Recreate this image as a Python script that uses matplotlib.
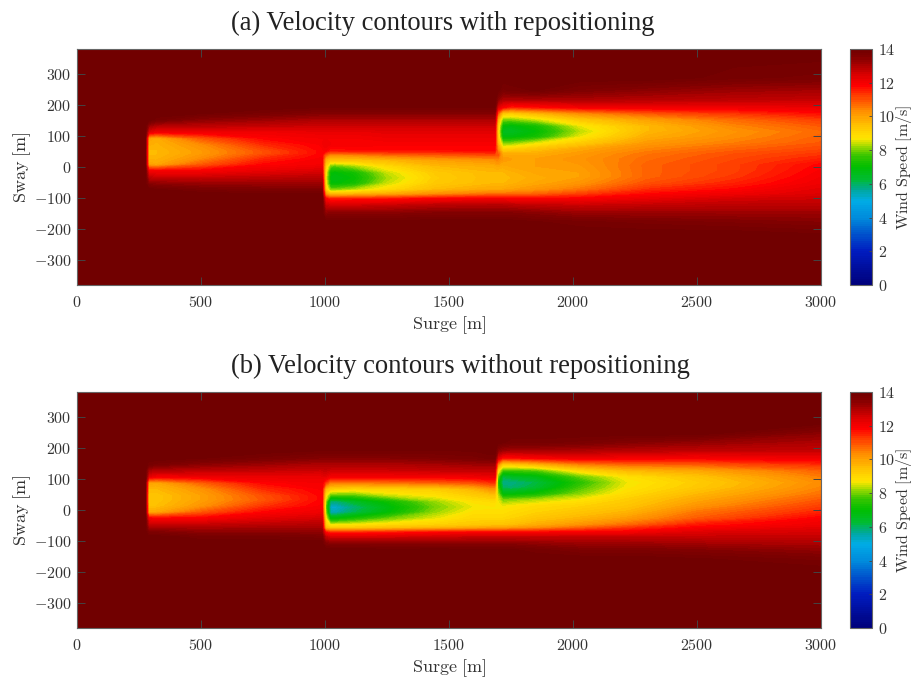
import matplotlib
matplotlib.use('Agg')
import matplotlib.pyplot as plt
import numpy as np
from matplotlib.colors import LinearSegmentedColormap

plt.rcParams['mathtext.fontset'] = 'cm'

# Stations, sway rows are top to bottom
surge_a = [0, 272, 287, 320, 500, 750, 985, 1000, 1020, 1040, 1120, 1250, 1450, 1670, 1682, 1695, 1715, 1750, 1850, 2030, 2300, 2650, 3000]
sway_a = [380, 290, 250, 220, 195, 175, 155, 135, 115, 95, 75, 55, 40, 25, 5, -15, -35, -55, -75, -90, -105, -125, -150, -180, -220, -380]
# one line per surge station
speed_a = [
    [14, 14, 14, 14, 14, 14, 14, 14, 14, 14, 14, 14, 14, 14, 14, 14, 14, 14, 14, 14, 14, 14, 14, 14, 14, 14],
    [14, 14, 14, 14, 14, 14, 14, 14, 14, 14, 14, 14, 14, 14, 14, 14, 14, 14, 14, 14, 14, 14, 14, 14, 14, 14],
    [14, 14, 14, 14, 14, 14, 14, 13.2, 12.3, 10, 9.8, 9.6, 9.6, 9.7, 10, 12, 12.7, 13.4, 14, 14, 14, 14, 14, 14, 14, 14],
    [14, 14, 14, 14, 14, 14, 13.8, 12.9, 12, 9.8, 9.7, 9.6, 9.6, 9.7, 9.9, 11.9, 12.6, 13.3, 13.9, 14, 14, 14, 14, 14, 14, 14],
    [14, 14, 14, 14, 14, 13.9, 13.4, 12.8, 12.1, 10.9, 10.3, 10.1, 10.1, 10.3, 10.9, 11.9, 12.6, 13.2, 13.7, 14, 14, 14, 14, 14, 14, 14],
    [14, 14, 14, 14, 14, 13.7, 13.2, 12.7, 12.1, 11.8, 11.4, 11, 11, 11.4, 11.8, 12.2, 12.7, 13.2, 13.6, 13.9, 14, 14, 14, 14, 14, 14],
    [14, 14, 14, 14, 13.9, 13.5, 13, 12.6, 12.2, 12, 11.9, 11.8, 11.8, 11.9, 12, 12.4, 12.8, 13.2, 13.6, 13.9, 14, 14, 14, 14, 14, 14],
    [14, 14, 14, 14, 13.9, 13.5, 13, 12.6, 12.2, 12, 12.1, 11.9, 10.8, 9.8, 9.2, 8.8, 8.7, 8.8, 9.2, 10.3, 11.9, 12.6, 13.3, 14, 14, 14],
    [14, 14, 14, 14, 13.9, 13.5, 13, 12.6, 12.2, 12, 12, 11.6, 10.2, 9.4, 7.9, 7, 6.8, 7, 8, 9.6, 11.5, 12.5, 13.4, 14, 14, 14],
    [14, 14, 14, 14, 13.9, 13.5, 13, 12.6, 12.2, 12, 12, 11.6, 10.2, 9.4, 7.8, 6.9, 6.7, 6.9, 8, 9.6, 11.5, 12.5, 13.4, 14, 14, 14],
    [14, 14, 14, 14, 13.9, 13.5, 13, 12.6, 12.2, 12, 12, 11.7, 10.3, 9.4, 8.2, 7.2, 7, 7.2, 8.3, 9.7, 11.6, 12.5, 13.4, 14, 14, 14],
    [14, 14, 14, 14, 13.9, 13.5, 13, 12.6, 12.3, 12.1, 11.9, 11.7, 10.6, 9.6, 8.9, 8.4, 8.2, 8.4, 8.9, 9.9, 11.6, 12.6, 13.4, 14, 14, 14],
    [14, 14, 14, 14, 13.9, 13.5, 13, 12.6, 12.3, 12.1, 11.9, 11.7, 10.8, 10, 9.6, 9.3, 9.2, 9.3, 9.6, 10.3, 11.9, 12.8, 13.5, 14, 14, 14],
    [14, 14, 14, 14, 13.9, 13.5, 13, 12.6, 12.3, 12.1, 11.9, 11.8, 11, 10.2, 9.8, 9.6, 9.6, 9.6, 9.9, 10.7, 12, 12.9, 13.5, 14, 14, 14],
    [14, 14, 14, 14, 13.9, 13.5, 13, 12.6, 12.3, 12.1, 11.9, 11.8, 11, 10.2, 9.8, 9.6, 9.6, 9.6, 9.9, 10.7, 12, 12.9, 13.5, 14, 14, 14],
    [14, 14, 14, 13.4, 12.4, 11, 9.8, 9.2, 9, 9.2, 9.6, 10.3, 10.9, 10.4, 9.9, 9.6, 9.6, 9.6, 9.9, 10.7, 12, 12.9, 13.5, 14, 14, 14],
    [14, 14, 13.7, 13, 11.9, 9.3, 8, 7, 6.5, 6.8, 8, 9, 9.8, 10.1, 9.8, 9.6, 9.6, 9.6, 9.9, 10.7, 12, 12.9, 13.5, 14, 14, 14],
    [14, 14, 13.8, 13, 11.5, 9.2, 8, 6.8, 6.4, 6.8, 8, 9.1, 9.8, 10, 9.9, 9.7, 9.6, 9.7, 10, 10.7, 11.9, 12.8, 13.5, 14, 14, 14],
    [14, 14, 13.9, 13, 11.7, 9.6, 8.4, 7.2, 6.9, 7.2, 8.5, 9.4, 9.8, 10, 10, 9.9, 9.8, 9.9, 10.2, 10.8, 11.9, 12.7, 13.4, 13.9, 14, 14],
    [14, 14, 13.6, 13, 12, 10.3, 9.3, 8.6, 8.3, 8.6, 9.2, 9.9, 10.1, 10.2, 10.1, 10, 10, 10.2, 10.6, 11.2, 11.9, 12.6, 13.2, 13.8, 14, 14],
    [14, 14, 13.4, 12.9, 12.1, 10.9, 10, 9.6, 9.6, 9.8, 10.1, 10.4, 10.6, 10.7, 10.8, 10.8, 10.8, 11, 11.4, 11.8, 12.2, 12.7, 13.2, 13.7, 14, 14],
    [14, 13.8, 13.2, 12.8, 12.1, 11.3, 10.7, 10.4, 10.2, 10.3, 10.5, 10.8, 11, 11.1, 11.2, 11.2, 11.3, 11.5, 11.8, 12.1, 12.5, 12.8, 13.2, 13.6, 14, 14],
    [14, 13.7, 13.1, 12.7, 12.2, 11.7, 11.2, 10.9, 10.7, 10.8, 10.9, 11.1, 11.3, 11.5, 11.8, 11.9, 12, 12.1, 12.3, 12.4, 12.6, 12.8, 13.2, 13.5, 13.9, 14],
]

surge_b = [0, 272, 287, 320, 500, 750, 985, 1000, 1020, 1040, 1120, 1250, 1450, 1600, 1670, 1682, 1695, 1715, 1750, 1850, 2030, 2220, 2500, 3000]
sway_b = [380, 280, 250, 220, 195, 170, 150, 130, 110, 90, 70, 50, 30, 10, -10, -30, -50, -60, -75, -90, -110, -130, -160, -200, -380]
speed_b = [
    [14, 14, 14, 14, 14, 14, 14, 14, 14, 14, 14, 14, 14, 14, 14, 14, 14, 14, 14, 14, 14, 14, 14, 14, 14],
    [14, 14, 14, 14, 14, 14, 14, 14, 14, 14, 14, 14, 14, 14, 14, 14, 14, 14, 14, 14, 14, 14, 14, 14, 14],
    [14, 14, 14, 14, 14, 14, 13.8, 13, 12.3, 10, 9.6, 9.4, 9.4, 9.5, 9.9, 12, 12.7, 13.1, 13.6, 14, 14, 14, 14, 14, 14],
    [14, 14, 14, 14, 14, 14, 13.7, 12.9, 12, 9.9, 9.6, 9.4, 9.4, 9.5, 9.9, 11.9, 12.7, 13.1, 13.6, 14, 14, 14, 14, 14, 14],
    [14, 14, 14, 14, 14, 13.9, 13.4, 12.8, 12.1, 10.8, 10.2, 10, 10, 10.2, 10.9, 11.9, 12.7, 13, 13.4, 13.8, 14, 14, 14, 14, 14],
    [14, 14, 14, 14, 14, 13.7, 13.2, 12.7, 12.2, 11.8, 11.4, 11, 10.9, 11.3, 11.8, 12.3, 12.8, 13.1, 13.4, 13.8, 14, 14, 14, 14, 14],
    [14, 14, 14, 14, 13.9, 13.5, 13, 12.6, 12.2, 12, 11.9, 11.8, 11.8, 11.9, 12.1, 12.5, 12.9, 13.1, 13.4, 13.7, 14, 14, 14, 14, 14],
    [14, 14, 14, 14, 13.9, 13.5, 13, 12.7, 12.3, 11.3, 9.6, 8.9, 8.3, 7.9, 8.3, 8.8, 9.2, 9.7, 11.8, 12.8, 13.5, 14, 14, 14, 14],
    [14, 14, 14, 14, 13.9, 13.5, 13, 12.6, 12, 10.5, 9.2, 7.8, 5.9, 5.2, 5.5, 6.9, 8.6, 9.3, 11.5, 12.5, 13.4, 14, 14, 14, 14],
    [14, 14, 14, 14, 13.9, 13.5, 13, 12.6, 12, 10.5, 9.1, 7.8, 5.8, 5.1, 5.4, 6.9, 8.6, 9.3, 11.5, 12.5, 13.4, 14, 14, 14, 14],
    [14, 14, 14, 14, 13.9, 13.5, 13, 12.6, 12, 10.5, 9, 7.8, 6.4, 5.8, 6.1, 7.3, 8.7, 9.3, 11.5, 12.5, 13.4, 14, 14, 14, 14],
    [14, 14, 14, 14, 13.9, 13.5, 13, 12.6, 12, 10.6, 9.1, 8.4, 7.1, 6.7, 6.9, 7.9, 8.9, 9.5, 11.6, 12.5, 13.4, 13.9, 14, 14, 14],
    [14, 14, 14, 14, 13.9, 13.6, 13.1, 12.7, 12, 10.8, 9.2, 8.8, 8.2, 8, 8.2, 8.6, 9.1, 9.7, 11.8, 12.6, 13.4, 13.95, 14, 14, 14],
    [14, 14, 14, 14, 13.9, 13.7, 13.2, 12.7, 12.1, 11, 9.7, 9.2, 8.8, 8.6, 8.8, 9, 9.3, 9.9, 11.9, 12.7, 13.4, 13.9, 14, 14, 14],
    [14, 14, 14, 14, 14, 13.8, 13.2, 12.7, 12.2, 11.3, 10.2, 9.4, 8.9, 8.7, 8.8, 9, 9.4, 10, 11.9, 12.7, 13.4, 13.9, 14, 14, 14],
    [14, 14, 14, 14, 14, 13.8, 13.2, 12.7, 12.2, 11.3, 10.2, 9.4, 8.9, 8.7, 8.8, 9, 9.4, 10, 11.9, 12.7, 13.4, 13.9, 14, 14, 14],
    [14, 14, 14, 14, 13.4, 12.4, 10.6, 9, 8, 7.3, 7.7, 8.2, 8.6, 8.7, 8.8, 9, 9.4, 10, 11.9, 12.7, 13.4, 13.9, 14, 14, 14],
    [14, 14, 14, 13.9, 13.2, 11.7, 9.2, 7.7, 6.2, 5.7, 6, 6.8, 8, 8.6, 8.8, 9, 9.4, 10, 11.9, 12.7, 13.4, 13.9, 14, 14, 14],
    [14, 14, 14, 13.8, 13.1, 11.7, 9.3, 7.7, 6.4, 5.7, 5.9, 6.8, 8.1, 8.7, 8.9, 9.1, 9.5, 10.1, 11.9, 12.7, 13.4, 13.9, 14, 14, 14],
    [14, 14, 14, 13.8, 13.1, 11.9, 9.7, 7.8, 6.7, 6.1, 6.3, 7.1, 8.3, 8.9, 9.1, 9.4, 9.8, 10.3, 11.9, 12.7, 13.3, 13.8, 14, 14, 14],
    [14, 14, 14, 13.7, 13, 12.1, 10.5, 9, 7.9, 7.4, 7.7, 8.1, 8.7, 9.1, 9.4, 9.7, 10.2, 10.8, 12, 12.7, 13.2, 13.6, 14, 14, 14],
    [14, 14, 14, 13.5, 12.9, 12, 10.8, 9.6, 8.8, 8.6, 8.7, 8.9, 9.2, 9.4, 9.7, 10.1, 10.7, 11.3, 12, 12.7, 13.2, 13.6, 14, 14, 14],
    [14, 14, 14, 13.3, 12.8, 11.9, 10.9, 9.9, 9.4, 9.2, 9.3, 9.6, 9.9, 10.2, 10.6, 10.9, 11.6, 11.9, 12.4, 12.7, 13.1, 13.5, 13.9, 14, 14],
    [14, 13.9, 13.4, 13, 12.7, 12.1, 11.4, 10.8, 10.5, 10.3, 10.4, 10.6, 10.9, 11.2, 11.5, 11.9, 12.1, 12.3, 12.5, 12.7, 13, 13.3, 13.7, 14, 14],
]

sway_ticks = [-300, -200, -100, 0, 100, 200, 300]
surge_ticks = [0, 500, 1000, 1500, 2000, 2500, 3000]
cbar_ticks = [0, 2, 4, 6, 8, 10, 12, 14]
titles = ['(a) Velocity contours with repositioning', '(b) Velocity contours without repositioning']

# jet-like map, sampled off the colorbar
cmap_stops = [(0, '#00007a'), (2, '#001cc0'), (3, '#0052cc'), (4, '#008cdc'), (5, '#00ace6'),
              (5.6, '#00a8a0'), (6.3, '#00bc30'), (7, '#00be00'), (7.6, '#30c400'), (8.3, '#a8dc00'),
              (8.7, '#ffe600'), (9.5, '#ffc000'), (10.3, '#ff9000'), (11.2, '#ff4000'),
              (11.85, '#ff0000'), (12.4, '#e00000'), (13, '#b00000'), (13.5, '#850000'), (14, '#6e0000')]
wind_cmap = LinearSegmentedColormap.from_list('wind', [(v / 14, c) for v, c in cmap_stops], N=256)
levels = np.linspace(0, 14, 113)

W, H = 914, 683
fig = plt.figure(figsize=(W / 100, H / 100), dpi=100)
dark = '#333333'


def box(x0, x1, y0, y1):
    return [x0 / W, 1 - y1 / H, (x1 - x0) / W, (y1 - y0) / H]


panels = [(surge_a, sway_a, speed_a, 49, 285, 23), (surge_b, sway_b, speed_b, 392, 628, 366)]
for i, (sx, sy, sp, top, bottom, title_y) in enumerate(panels):
    ax = fig.add_axes(box(77, 821, top, bottom))
    cs = ax.contourf(sx, sy, np.array(sp).T, levels=levels, cmap=wind_cmap, vmin=0, vmax=14)
    cs.set_edgecolor('face')
    ax.set_xlim(0, 3000)
    ax.set_ylim(-380, 380)
    ax.set_xticks(surge_ticks)
    ax.set_xticklabels([f'${v}$' for v in surge_ticks], fontsize=11.5, color=dark)
    ax.set_yticks(sway_ticks)
    ax.set_yticklabels([f'${v}$' for v in sway_ticks], fontsize=11.5, color=dark)
    ax.tick_params(direction='in', top=True, right=True, length=5.5, width=0.7, color='#444444', pad=4)
    ax.tick_params(axis='x', pad=7)
    for s in ax.spines.values():
        s.set_color('#666666')
        s.set_linewidth(0.8)

    cax = fig.add_axes(box(850, 872, top, bottom))
    cb = fig.colorbar(cs, cax=cax, ticks=cbar_ticks)
    cb.ax.set_yticklabels([f'${v}$' for v in cbar_ticks], fontsize=11.5, color=dark)
    cb.ax.tick_params(direction='in', length=2, width=0.6, color='#444444', pad=4.5)
    cb.outline.set_edgecolor('#666666')
    cb.outline.set_linewidth(0.8)

    fig.text(231 / W, 1 - title_y / H, titles[i], ha='left', va='center', fontsize=19.2,
             family='Liberation Serif', color='#222222')
    fig.text(449 / W, 1 - (bottom + 40) / H, r'$\mathrm{Surge\ [m]}$', ha='center', va='center',
             fontsize=13, color=dark)
    fig.text(22 / W, 1 - (top + bottom) / 2 / H, r'$\mathrm{Sway\ [m]}$', rotation=90, ha='center',
             va='center', fontsize=13, color=dark)
    fig.text(904 / W, 1 - (top + bottom) / 2 / H, r'$\mathrm{Wind\ Speed\ [m/s]}$', rotation=90,
             ha='center', va='center', fontsize=11.5, color=dark)

fig.savefig('out.png', dpi=100)
